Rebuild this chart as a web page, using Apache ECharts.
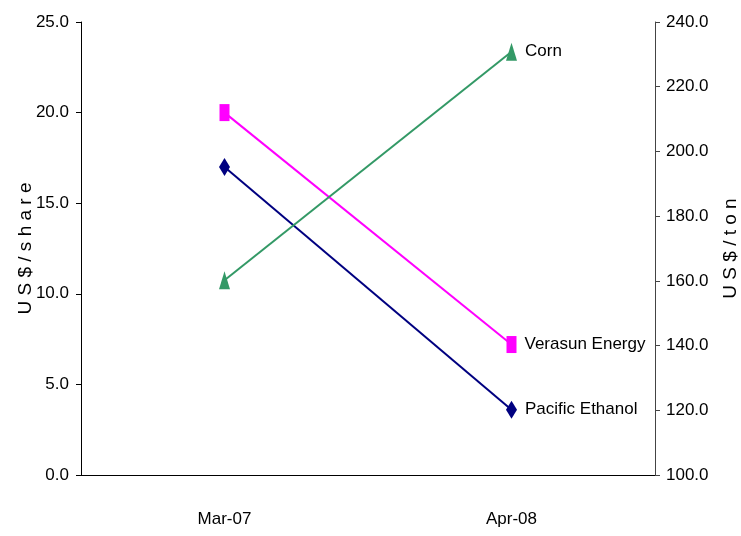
<!DOCTYPE html>
<html>
<head>
<meta charset="utf-8">
<script src="https://cdn.jsdelivr.net/npm/echarts@6/dist/echarts.min.js"></script>
<style>
html,body{margin:0;padding:0;background:#fff;}
#chart{width:741px;height:536px;}
</style>
</head>
<body>
<div id="chart"></div>
<script>
const categories = ["Mar-07", "Apr-08"];
const pacificEthanol = [17.0, 3.6];
const verasunEnergy = [20.0, 7.2];
const corn = [160.2, 230.8];
const leftAxisName = "U S $ / s h a r e";
const rightAxisName = "U S $ / t o n";
const seriesNames = ["Pacific Ethanol", "Verasun Energy", "Corn"];

const FONT = '"Liberation Sans Narrow", "Arial Narrow", "Liberation Sans", Arial, sans-serif';
const FS = 17;

function withEndLabel(values) {
  return values.map((v, i) => i === values.length - 1
    ? { value: v, label: { show: true, position: 'right', distance: 8, formatter: '{a}' } }
    : v);
}

const chart = echarts.init(document.getElementById('chart'), null, { renderer: 'canvas' });
chart.setOption({
  animation: false,
  backgroundColor: '#fff',
  textStyle: { fontFamily: FONT },
  grid: { left: 81, right: 86, top: 22, bottom: 61, containLabel: false, outerBoundsMode: 'none' },
  xAxis: {
    type: 'category',
    data: categories,
    boundaryGap: true,
    axisLine: { lineStyle: { color: '#000', width: 1 } },
    axisTick: { show: false },
    axisLabel: { color: '#000', fontSize: FS, fontFamily: FONT, margin: 36 },
    splitLine: { show: false }
  },
  yAxis: [
    {
      type: 'value', min: 0, max: 25, interval: 5,
      name: leftAxisName, nameLocation: 'middle', nameRotate: 90, nameGap: 46, nameMoveOverlap: false,
      nameTextStyle: { color: '#000', fontSize: FS + 2, fontFamily: FONT },
      axisLine: { show: true, lineStyle: { color: '#000', width: 1 } },
      axisTick: { show: true, length: 5, lineStyle: { color: '#000' } },
      axisLabel: { color: '#000', fontSize: FS, fontFamily: FONT, margin: 12, formatter: v => v.toFixed(1) },
      splitLine: { show: false }
    },
    {
      type: 'value', min: 100, max: 240, interval: 20, position: 'right',
      name: rightAxisName, nameLocation: 'middle', nameRotate: 90, nameGap: 66, nameMoveOverlap: false,
      nameTextStyle: { color: '#000', fontSize: FS + 2, fontFamily: FONT },
      axisLine: { show: true, lineStyle: { color: '#444', width: 1 } },
      axisTick: { show: true, length: 5, lineStyle: { color: '#444' } },
      axisLabel: { color: '#000', fontSize: FS, fontFamily: FONT, margin: 11, formatter: v => v.toFixed(1) },
      splitLine: { show: false }
    }
  ],
  series: [
    {
      name: seriesNames[0], type: 'line', yAxisIndex: 0,
      data: withEndLabel(pacificEthanol),
      symbol: 'diamond', symbolSize: [11, 18],
      lineStyle: { color: '#000080', width: 2 },
      itemStyle: { color: '#000080' },
      label: { color: '#000', fontSize: FS, fontFamily: FONT }
    },
    {
      name: seriesNames[1], type: 'line', yAxisIndex: 0,
      data: withEndLabel(verasunEnergy),
      symbol: 'rect', symbolSize: [10, 17],
      lineStyle: { color: '#FF00FF', width: 2 },
      itemStyle: { color: '#FF00FF' },
      label: { color: '#000', fontSize: FS, fontFamily: FONT }
    },
    {
      name: seriesNames[2], type: 'line', yAxisIndex: 1,
      data: withEndLabel(corn),
      symbol: 'triangle', symbolSize: [11, 18],
      lineStyle: { color: '#339966', width: 2 },
      itemStyle: { color: '#339966' },
      label: { color: '#000', fontSize: FS, fontFamily: FONT }
    }
  ]
});
</script>
</body>
</html>
